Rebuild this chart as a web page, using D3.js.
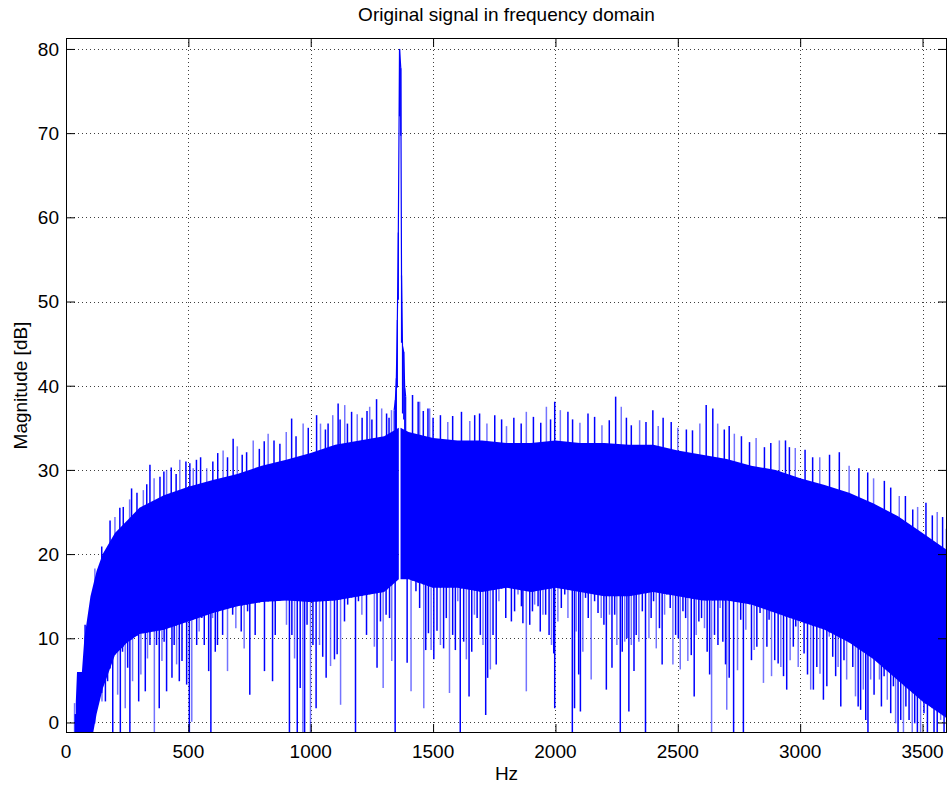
<!DOCTYPE html>
<html>
<head>
<meta charset="utf-8">
<script src="https://cdn.jsdelivr.net/npm/d3@7"></script>
<style>
  html, body { margin: 0; padding: 0; background: #fff; }
  svg { display: block; font-family: "Liberation Sans", Arial, Helvetica, sans-serif; }
</style>
</head>
<body>
<svg id="chart" width="950" height="791"></svg>
<script>
// ---------- data ----------
const titleText = "Original signal in frequency domain";
const xLabelText = "Hz";
const yLabelText = "Magnitude [dB]";
const xTicks = [0, 500, 1000, 1500, 2000, 2500, 3000, 3500];
const yTicks = [0, 10, 20, 30, 40, 50, 60, 70, 80];

// Dense noise band: solid region between bandBottomDb and bandTopDb (null = gap under the tone)
const bandHz =       [40, 45, 65, 75, 100, 125, 150, 200, 250, 300, 400, 500, 600, 700, 800, 900, 1000, 1100, 1200, 1300, 1360, 1363, 1367, 1400, 1500, 1600, 1700, 1800, 1900, 2000, 2100, 2200, 2300, 2400, 2500, 2600, 2700, 2800, 2900, 3000, 3100, 3200, 3300, 3400, 3500, 3600];
const bandTopDb =    [2.4, 6, 6, 10, 15, 18, 20, 22.5, 24, 25.5, 27, 28, 28.8, 29.5, 30.5, 31.2, 32, 33, 33.5, 34, 35, null, 35, 34.5, 33.8, 33.5, 33.5, 33.2, 33.2, 33.5, 33.2, 33.2, 33, 33, 32.3, 31.8, 31.3, 30.5, 30, 29, 28.2, 27.3, 26, 24.5, 22.5, 20.5];
const bandBottomDb = [-3, -3, -3, -3, -3, 1, 4, 8, 9.5, 10.5, 11, 12, 13, 13.8, 14.3, 14.5, 14.3, 14.5, 15, 15.5, 17, null, 17, 17, 16, 16, 15.5, 16, 15.5, 16, 15.5, 15, 15, 15.5, 15, 14.5, 14.5, 14, 13, 12, 11, 9.5, 7.5, 5, 2.5, 0.5];

// The tone at ~1363 Hz
const toneHz = [1341, 1346, 1350, 1354, 1358, 1363, 1368, 1371, 1375, 1380, 1384, 1388];
const toneDb = [37.1, 38.3, 40.9, 47.8, 58.2, 80.0, 77.7, 53.1, 44.7, 44.0, 39.7, 38.7];

// Upward spikes above the band (tips)
const upHz = [0, 35, 38, 78, 118, 146, 180, 200, 220, 234, 260, 268, 290, 316, 330, 343, 360, 384, 400, 411, 430, 450, 465, 490, 506, 520, 533, 550, 575, 600, 620, 642, 660, 683, 700, 720, 738, 765, 790, 810, 826, 850, 874, 900, 922, 940, 969, 990,
  1024, 1040, 1060, 1071, 1090, 1112, 1120, 1139, 1150, 1167, 1190, 1210, 1230, 1241, 1250, 1269, 1290, 1310, 1320, 1330,
  1416, 1439, 1445, 1460, 1479, 1486, 1500, 1530, 1560, 1580, 1616, 1650, 1670, 1690, 1720, 1752, 1780, 1800, 1830, 1860, 1881, 1910, 1940, 1963, 1980, 1997, 2020,
  2051, 2070, 2100, 2133, 2160, 2190, 2220, 2246, 2269, 2290, 2310, 2344, 2370, 2398, 2420, 2440, 2473, 2500, 2535, 2560, 2590,
  2616, 2643, 2663, 2690, 2710, 2731, 2760, 2793, 2820, 2854, 2880, 2915, 2940, 2956, 2980, 3020, 3051, 3080, 3120, 3160, 3200, 3240, 3276, 3300, 3344, 3370, 3405, 3430, 3460, 3480, 3514, 3540, 3560, 3582, 3598];
const upDb = [1.1, 2.3, 1.0, 11.6, 18.3, 20.9, 24.0, 24.4, 25.5, 25.6, 26.5, 27.8, 27.3, 27.6, 28.3, 30.6, 29.0, 29.2, 29.8, 30.0, 30.3, 29.5, 31.2, 31.0, 30.8, 30.2, 31.2, 31.5, 30.2, 31.0, 32.0, 32.3, 31.5, 33.7, 32.8, 31.8, 32.1, 33.5, 32.5, 33.4, 34.3, 33.5, 33.1, 34.5, 36.1, 34.0, 35.5, 35.0,
  36.5, 35.5, 34.8, 35.5, 36.5, 37.9, 36.0, 37.7, 35.5, 36.9, 36.6, 36.2, 37.0, 37.5, 36.0, 38.4, 37.3, 36.7, 36.2, 37.1,
  38.9, 38.1, 38.1, 37.0, 37.3, 37.3, 36.2, 36.5, 35.7, 36.4, 36.9, 35.8, 36.5, 36.7, 35.5, 36.5, 36.0, 35.2, 36.2, 35.5, 36.9, 36.3, 35.6, 37.5, 36.0, 38.1, 37.1,
  36.9, 36.0, 35.6, 36.7, 36.3, 35.3, 35.9, 38.7, 37.5, 36.2, 35.3, 35.9, 35.7, 37.1, 35.2, 36.2, 35.7, 35.0, 34.8, 34.7, 35.5,
  37.7, 37.3, 35.5, 34.8, 35.2, 34.3, 34.0, 33.3, 33.8, 32.7, 33.2, 33.5, 33.5, 32.7, 32.6, 32.4, 31.5, 31.5, 31.8, 32.1, 30.5, 30.2, 29.7, 29.0, 28.7, 27.9, 26.9, 26.9, 25.3, 25.6, 26.1, 24.6, 25.0, 24.4, 23.0];

// Downward spikes below the band (tips; -4 = runs off the bottom of the axes)
const downHz = [
  136, 147, 161, 170, 180, 191, 201, 211, 222, 231, 242, 252, 261, 272, 286, 297, 306, 316, 324, 333, 343, 351, 361, 370, 381, 392, 401, 411, 422, 433, 442, 452, 463, 474, 483, 493, 504, 514, 524, 534, 544, 555, 565, 574, 583, 592, 599, 610, 619, 629, 640, 651, 660, 670, 681, 694, 705, 716, 728, 742, 751, 762, 773, 787, 800, 811, 822, 833, 844, 855, 868, 878, 891, 901,
  913, 923, 934, 945, 957, 968, 975, 985, 999, 1009, 1022, 1036, 1049, 1063, 1081, 1097, 1108, 1122, 1138, 1151, 1165, 1183, 1195, 1209, 1228, 1244, 1260, 1271, 1285, 1296, 1308, 1322, 1331, 1345,
  1394, 1410, 1430, 1445, 1462, 1470, 1481, 1492, 1503, 1516, 1530, 1543, 1554, 1567, 1580, 1591, 1601, 1611, 1625, 1636, 1647, 1658, 1669, 1680, 1693, 1704, 1715, 1723, 1734, 1745, 1758, 1769, 1783, 1797, 1807,
  1820, 1833, 1847, 1861, 1867, 1881, 1895, 1906, 1915, 1929, 1938, 1949, 1960, 1974, 1984, 1993, 1997, 2010, 2024, 2038, 2051, 2069, 2078, 2085, 2095, 2102, 2112, 2123, 2134, 2146, 2160, 2174, 2187, 2198, 2208, 2221, 2231, 2242, 2251, 2265, 2273, 2283, 2292, 2300, 2310, 2321, 2330, 2341, 2355, 2368, 2382, 2391, 2401, 2412, 2425, 2436, 2446, 2455, 2469, 2480, 2491, 2502, 2510, 2521, 2532, 2541, 2555, 2567, 2575, 2586, 2597, 2609, 2620, 2630, 2638, 2650, 2664, 2673, 2684, 2695, 2700,
  2710, 2728, 2744, 2757, 2768, 2778, 2787, 2801, 2812, 2823, 2836, 2850, 2864, 2873, 2883, 2896, 2910, 2921, 2932, 2945, 2959, 2972, 2982, 2992, 3016, 3030, 3043, 3054, 3068, 3081, 3095, 3109, 3119, 3133, 3145, 3155, 3166, 3179, 3190, 3204, 3215, 3226, 3237, 3247, 3258, 3268, 3277, 3288, 3302, 3313, 3324, 3332, 3343, 3356, 3370, 3381, 3390, 3400, 3411, 3422, 3432, 3445, 3458, 3468, 3479, 3492, 3506, 3520, 3533, 3547, 3560, 3574, 3588];
const downDb = [
  3.3, 2.5, 2.5, 4.9, 8.4, -4, 10.4, 3.3, -4, 8.4, 1.7, 6.5, -4, 4.9, 10.8, 2.5, 5.7, 12.8, 3.7, 7.6, 9.2, 12.8, -4, 9.2, 1.7, 7.3, 9.6, 3.7, 12.0, 5.3, 9.2, 6.9, 4.9, 7.3, 13.2, 4.5, -4, 0.1, 16.0, 9.2, 10.8, 12.4, 9.2, 16.0, 6.1, -4, 12.4, 8.4, 9.2, 15.6, 10.4, 13.6, 6.1, 16.8, 12.8, 11.2, 19.2, 10.8, 8.8, 13.2, 3.3, 15.2, 10.4, 15.6, 15.2, 6.1, 19.2, 17.2, 4.9, 10.4, 18.8, 15.6, 20.0, 11.6,
  -4, 10.4, 7.6, -4, 4.1, -4, -4, 11.6, -4, 9.2, 1.7, 9.2, 7.8, 5.3, 6.7, 7.5, 8.1, 2.1, 12.0, 14.0, 16.0, -4, 14.4, 12.8, 10.4, 16.4, 9.0, 6.5, 12.0, 4.1, 12.8, 12.4, 7.3, -4,
  7.1, 3.7, 15.6, 13.6, 1.7, 8.6, 10.6, 8.6, 7.5, 10.9, 9.2, 8.8, 12.4, 3.5, 10.4, 8.6, 14.4, -4, 9.6, 7.5, 3.1, 8.4, 12.8, 12.4, 10.4, 9.2, 0.9, 5.3, 6.3, 10.4, 6.9, 14.4, 16.4, 12.4, 17.6,
  12.0, 13.2, 15.2, 13.8, 11.8, 3.7, 11.6, 13.2, 14.0, 13.8, 10.8, 12.8, 12.8, 10.4, 9.2, 8.2, 1.7, 12.0, 13.6, 15.2, 12.4, -4, 1.7, 10.8, 5.7, 1.3, 8.4, 14.8, 12.4, 5.1, 14.4, 13.0, 12.4, 11.6, 3.9, 12.8, 6.5, 12.8, 9.2, -4, 8.4, 9.6, 10.0, 1.3, 9.2, 6.1, 10.4, 9.6, 13.2, -4, 10.0, 12.4, 14.4, 8.8, 11.2, 6.9, 12.8, 15.2, 13.6, 6.9, 10.4, 10.0, 6.3, 13.2, 12.4, 7.3, 8.0, 3.1, 10.4, 12.0, 12.4, 11.2, 8.4, 5.7, -4, 10.4, 9.2, 13.6, 9.6, 6.9, 1.5,
  5.3, -4, 6.2, 12.2, -4, 11.0, 14.2, 7.4, 8.6, 9.0, 13.0, 4.7, 9.0, 12.2, 5.5, 7.4, 7.0, 6.6, 5.5, 3.9, 7.4, 9.0, 11.4, 6.6, 8.2, 5.7, 3.9, 3.9, 6.6, 5.8, 2.7, 4.3, 10.2, 7.8, 5.5, 6.6, 1.9, 7.4, 5.1, 10.6, 6.6, 3.1, 1.9, 1.5, 3.9, 0.3, -4, 5.1, 3.3, 8.2, 5.1, 1.9, 5.5, 2.7, 1.1, 4.3, -0.1, -4, 0.3, -4, 1.9, 0.3, -4, -0.1, -4, -4, 1.1, -4, 1.9, -4, -4, 0.3, -4];

// ---------- layout ----------
const plot = { left: 66, top: 38, right: 947, bottom: 733 };
const blue = "#0000ff";

const svg = d3.select("#chart");
const x = d3.scaleLinear().domain([0, 3600]).range([plot.left, plot.right]);
const y = d3.scaleLinear().domain([-1.25, 81.3]).range([plot.bottom, plot.top]);

// piecewise-linear band edges, used as spike bases
const defIdx = bandHz.map((h, i) => i).filter(i => bandTopDb[i] !== null);
const topAt = d3.scaleLinear().domain(defIdx.map(i => bandHz[i])).range(defIdx.map(i => bandTopDb[i])).clamp(true);
const botAt = d3.scaleLinear().domain(defIdx.map(i => bandHz[i])).range(defIdx.map(i => bandBottomDb[i])).clamp(true);

svg.append("defs").append("clipPath").attr("id", "clip")
  .append("rect").attr("x", plot.left).attr("y", plot.top)
  .attr("width", plot.right - plot.left).attr("height", plot.bottom - plot.top);

// grid
const grid = svg.append("g").attr("stroke", "#000").attr("stroke-width", 1).attr("stroke-dasharray", "1,3").attr("opacity", 0.75);
grid.selectAll("line.v").data(xTicks.filter(t => t > 0)).join("line")
  .attr("x1", d => Math.round(x(d)) + 0.5).attr("x2", d => Math.round(x(d)) + 0.5)
  .attr("y1", plot.top).attr("y2", plot.bottom);
grid.selectAll("line.h").data(yTicks).join("line")
  .attr("y1", d => Math.round(y(d)) + 0.5).attr("y2", d => Math.round(y(d)) + 0.5)
  .attr("x1", plot.left).attr("x2", plot.right);

// data
const data = svg.append("g").attr("clip-path", "url(#clip)");
const bandRows = bandHz.map((h, i) => ({ h, t: bandTopDb[i], b: bandBottomDb[i] }));
data.append("path")
  .datum(bandRows)
  .attr("fill", blue)
  .attr("d", d3.area().defined(d => d.t !== null)
    .x(d => x(d.h)).y0(d => y(d.b)).y1(d => y(d.t)));

const spikeOpacity = (d, i) => (i % 3 === 1 ? 0.55 : 1);

const downRows = downHz.map((h, i) => ({ h, v: downDb[i] }));
data.append("g").selectAll("line").data(downRows).join("line")
  .attr("x1", d => x(d.h)).attr("x2", d => x(d.h))
  .attr("y1", d => y(topAt(d.h) - 1)).attr("y2", d => y(d.v))
  .attr("stroke", blue).attr("stroke-width", 1.5)
  .attr("stroke-opacity", spikeOpacity);

const upRows = upHz.map((h, i) => ({ h, v: upDb[i] }));
data.append("g").selectAll("line").data(upRows).join("line")
  .attr("x1", d => x(d.h)).attr("x2", d => x(d.h))
  .attr("y1", d => y(Math.min(botAt(d.h), d.v))).attr("y2", d => y(d.v))
  .attr("stroke", blue).attr("stroke-width", 1.5)
  .attr("stroke-opacity", spikeOpacity);

// tone: vertical bins plus the connecting trace
const toneRows = toneHz.map((h, i) => ({ h, v: toneDb[i] }));
data.append("g").selectAll("line").data(toneRows).join("line")
  .attr("x1", d => x(d.h)).attr("x2", d => x(d.h))
  .attr("y1", d => y(d.v - 8)).attr("y2", d => y(d.v))
  .attr("stroke", blue).attr("stroke-width", 1.2);
data.append("path").datum(toneRows)
  .attr("fill", "none").attr("stroke", blue).attr("stroke-width", 1.2)
  .attr("d", d3.line().x(d => x(d.h)).y(d => y(d.v)));

// axes box
svg.append("rect").attr("x", plot.left + 0.5).attr("y", plot.top + 0.5)
  .attr("width", plot.right - plot.left - 1).attr("height", plot.bottom - plot.top - 1)
  .attr("fill", "none").attr("stroke", "#000").attr("stroke-width", 1);

// ticks on all four sides (inside) via d3 axes
const tickLen = 9;
const axB = svg.append("g").attr("transform", `translate(0,${plot.bottom})`)
  .call(d3.axisBottom(x).tickValues(xTicks).tickSize(-tickLen).tickFormat(""));
const axT = svg.append("g").attr("transform", `translate(0,${plot.top})`)
  .call(d3.axisTop(x).tickValues(xTicks).tickSize(-tickLen).tickFormat(""));
const axL = svg.append("g").attr("transform", `translate(${plot.left},0)`)
  .call(d3.axisLeft(y).tickValues(yTicks).tickSize(-tickLen).tickFormat(""));
const axR = svg.append("g").attr("transform", `translate(${plot.right},0)`)
  .call(d3.axisRight(y).tickValues(yTicks).tickSize(-tickLen).tickFormat(""));
[axB, axT, axL, axR].forEach(a => { a.select(".domain").remove(); a.selectAll("line").attr("stroke", "#000"); });

// tick labels
svg.append("g").selectAll("text").data(xTicks).join("text")
  .attr("x", d => x(d)).attr("y", 757.5).attr("text-anchor", "middle")
  .attr("font-size", 19).attr("fill", "#000").text(d => d);
svg.append("g").selectAll("text").data(yTicks).join("text")
  .attr("x", 59).attr("y", d => y(d)).attr("dy", "0.36em").attr("text-anchor", "end")
  .attr("font-size", 19).attr("fill", "#000").text(d => d);

// title and axis labels
svg.append("text").attr("x", (plot.left + plot.right) / 2).attr("y", 21)
  .attr("text-anchor", "middle").attr("font-size", 19).attr("fill", "#000").text(titleText);
svg.append("text").attr("x", (plot.left + plot.right) / 2).attr("y", 780)
  .attr("text-anchor", "middle").attr("font-size", 19).attr("fill", "#000").text(xLabelText);
svg.append("text").attr("transform", `translate(27,${(plot.top + plot.bottom) / 2}) rotate(-90)`)
  .attr("text-anchor", "middle").attr("font-size", 19).attr("fill", "#000").text(yLabelText);
</script>
</body>
</html>
